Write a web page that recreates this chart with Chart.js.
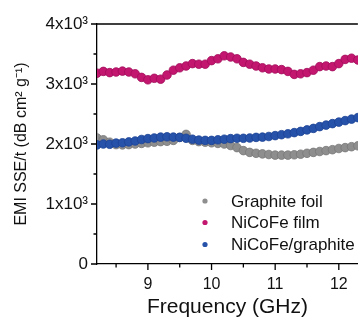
<!DOCTYPE html>
<html>
<head>
<meta charset="utf-8">
<script src="https://cdn.jsdelivr.net/npm/chart.js@4.4.1/dist/chart.umd.min.js"></script>
<style>
  html, body { margin: 0; padding: 0; background: #fff; }
  #wrap { width: 363px; height: 320px; }
</style>
</head>
<body>
<div id="wrap"><canvas id="chart"></canvas></div>
<script>
// frequency (GHz)
const freq = [8.2, 8.3, 8.4, 8.5, 8.6, 8.7, 8.8, 8.9, 9.0, 9.1, 9.2, 9.3, 9.4, 9.5,
  9.6, 9.7, 9.8, 9.9, 10.0, 10.1, 10.2, 10.3, 10.4, 10.5, 10.6, 10.7, 10.8, 10.9,
  11.0, 11.1, 11.2, 11.3, 11.4, 11.5, 11.6, 11.7, 11.8, 11.9, 12.0, 12.1, 12.2, 12.3];

const graphiteFoil = [2100, 2070, 2030, 1990, 1985, 1990, 2000, 2010, 2020, 2030, 2040, 2045, 2060, 2110,
  2160, 2060, 2040, 2030, 2020, 2010, 2000, 1975, 1940, 1890, 1860, 1845, 1835, 1825,
  1815, 1815, 1815, 1820, 1830, 1845, 1860, 1875, 1890, 1905, 1925, 1940, 1955, 1970];

const nicofeFilm = [3180, 3210, 3190, 3200, 3215, 3200, 3170, 3110, 3070, 3095, 3080, 3150, 3230, 3270,
  3300, 3340, 3330, 3330, 3390, 3420, 3470, 3450, 3420, 3360, 3330, 3300, 3270, 3250,
  3250, 3240, 3210, 3160, 3170, 3190, 3230, 3290, 3300, 3290, 3340, 3410, 3430, 3400];

const nicofeGraphite = [1985, 2000, 1995, 2015, 2020, 2035, 2050, 2075, 2090, 2100, 2115, 2120, 2115, 2110,
  2095, 2080, 2065, 2060, 2060, 2070, 2080, 2090, 2095, 2095, 2100, 2110, 2115, 2125,
  2140, 2155, 2170, 2190, 2210, 2235, 2260, 2290, 2315, 2340, 2365, 2390, 2415, 2440];

const seriesLabels = ['Graphite foil', 'NiCoFe film', 'NiCoFe/graphite'];
const xTicks = [8.5, 9, 9.5, 10, 10.5, 11, 11.5, 12];
const yTicks = [0, 500, 1000, 1500, 2000, 2500, 3000, 3500, 4000];
const yTickLabels = { 0: '0', 1000: '1x10³', 2000: '2x10³', 3000: '3x10³', 4000: '4x10³' };

const FONT = "'Liberation Sans', Arial, sans-serif";

function toPoints(vals) {
  return freq.map((f, i) => ({ x: f, y: vals[i] }));
}

const colors = [
  { fill: '#8e8e8e', line: '#777777' },
  { fill: '#c3166f', line: '#a20d5b' },
  { fill: '#2752aa', line: '#1c4394' },
];

// ticks (major outward, minor shorter) + top frame line
const frameTicks = {
  id: 'frameTicks',
  afterDraw(chart) {
    const { ctx, chartArea, scales } = chart;
    ctx.save();
    ctx.strokeStyle = '#000';
    ctx.lineWidth = 1.3;
    ctx.beginPath();
    ctx.moveTo(chartArea.left, chartArea.top);
    ctx.lineTo(chartArea.right, chartArea.top);
    xTicks.forEach(v => {
      const px = scales.x.getPixelForValue(v);
      const len = Number.isInteger(v) ? 6 : 3.5;
      ctx.moveTo(px, chartArea.bottom);
      ctx.lineTo(px, chartArea.bottom + len);
    });
    yTicks.forEach(v => {
      const py = scales.y.getPixelForValue(v);
      const len = v % 1000 === 0 ? 6 : 3.5;
      ctx.moveTo(chartArea.left, py);
      ctx.lineTo(chartArea.left - len, py);
    });
    ctx.stroke();
    ctx.restore();
  }
};

// legend inside the plot
const innerLegend = {
  id: 'innerLegend',
  afterDatasetsDraw(chart) {
    const { ctx } = chart;
    const rows = [201, 222.5, 244.5];
    ctx.save();
    ctx.font = '17px ' + FONT;
    ctx.textBaseline = 'middle';
    chart.data.datasets.forEach((ds, i) => {
      ctx.beginPath();
      ctx.arc(205, rows[i], 2.6, 0, Math.PI * 2);
      ctx.fillStyle = colors[i].fill;
      ctx.fill();
      ctx.fillStyle = '#111';
      ctx.fillText(ds.label, 231, rows[i] + 1);
    });
    ctx.restore();
  }
};

new Chart(document.getElementById('chart'), {
  type: 'scatter',
  data: {
    datasets: [
      { label: seriesLabels[0], data: toPoints(graphiteFoil), order: 2 },
      { label: seriesLabels[1], data: toPoints(nicofeFilm), order: 1 },
      { label: seriesLabels[2], data: toPoints(nicofeGraphite), order: 0 },
    ].map((ds, i) => Object.assign(ds, {
      backgroundColor: colors[i].fill,
      borderColor: colors[i].line,
      borderWidth: 0.8,
      pointRadius: 4.3,
      pointHoverRadius: 4.3,
      showLine: false,
    }))
  },
  options: {
    responsive: true,
    maintainAspectRatio: false,
    animation: false,
    layout: { padding: { top: 24, right: 0, left: 0, bottom: 0 } },
    plugins: { legend: { display: false }, tooltip: { enabled: false } },
    scales: {
      x: {
        type: 'linear',
        min: 8.2,
        max: 12.3,
        afterFit(scale) { scale.height = 56; },
        afterBuildTicks(scale) { scale.ticks = xTicks.map(v => ({ value: v })); },
        grid: { display: false, drawTicks: false },
        border: { display: true, color: '#000', width: 1.3 },
        ticks: {
          padding: 11,
          color: '#111',
          font: { size: 16, family: FONT },
          maxRotation: 0,
          autoSkip: false,
          callback: v => Number.isInteger(v) ? String(v) : '',
        },
        title: {
          display: true,
          text: 'Frequency (GHz)',
          color: '#111',
          font: { size: 21, family: FONT },
          padding: { top: 0, bottom: 0 },
        },
      },
      y: {
        type: 'linear',
        min: 0,
        max: 4000,
        afterFit(scale) { scale.width = 97; },
        afterBuildTicks(scale) { scale.ticks = yTicks.map(v => ({ value: v })); },
        grid: { display: false, drawTicks: false },
        border: { display: true, color: '#000', width: 1.3 },
        ticks: {
          padding: 9,
          color: '#111',
          font: { size: 17, family: FONT },
          autoSkip: false,
          callback: v => yTickLabels[v] || '',
        },
        title: {
          display: true,
          text: 'EMI SSE/t (dB cm² g⁻¹)',
          color: '#111',
          font: { size: 16, family: FONT },
          padding: { top: 12, bottom: 0 },
        },
      },
    },
  },
  plugins: [frameTicks, innerLegend],
});
</script>
</body>
</html>
